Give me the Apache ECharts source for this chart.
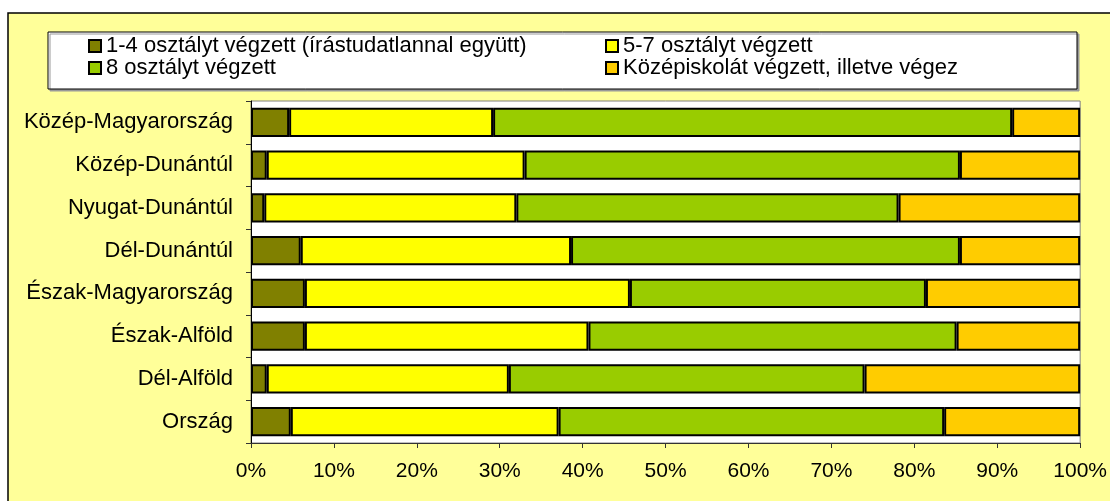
<!DOCTYPE html>
<html>
<head>
<meta charset="utf-8">
<script src="https://cdn.jsdelivr.net/npm/echarts@6/dist/echarts.min.js"></script>
<style>html,body{margin:0;padding:0;background:#fff}#c{width:1110px;height:501px}</style>
</head>
<body>
<div id="c"></div>
<script>
const categories = ["Közép-Magyarország","Közép-Dunántúl","Nyugat-Dunántúl","Dél-Dunántúl","Észak-Magyarország","Észak-Alföld","Dél-Alföld","Ország"];
const seriesNames = ["1-4 osztályt végzett (írástudatlannal együtt)","5-7 osztályt végzett","8 osztályt végzett","Középiskolát végzett, illetve végez"];
const s1 = [4.6, 1.9, 1.6, 6.0, 6.5, 6.5, 1.9, 4.8];
const s2 = [24.6, 31.1, 30.4, 32.6, 39.2, 34.2, 29.2, 32.3];
const s3 = [62.6, 52.5, 46.1, 46.9, 35.7, 44.4, 42.9, 46.5];
const s4 = [8.2, 14.5, 21.9, 14.5, 18.6, 14.9, 26.0, 16.4];
const colors = ["#808000","#FFFF00","#99CC00","#FFCC00"];
const values = [s1, s2, s3, s4];

const FONT = "'Liberation Sans', Arial, sans-serif";
const chart = echarts.init(document.getElementById('c'), null, {renderer:'canvas'});
const legendCommon = {
  orient: 'vertical', top: 35, padding: 0, itemGap: 0,
  itemWidth: 12, itemHeight: 12, icon: 'rect',
  textStyle: {fontFamily: FONT, fontSize: 22, color: '#000', lineHeight: 22},
  selectedMode: false
};
chart.setOption({
  backgroundColor: '#fff',
  animation: false,
  textStyle: {fontFamily: FONT},
  graphic: [
    {type:'rect', z:-10, silent:true, shape:{x:8, y:13, width:1200, height:600},
     style:{fill:'#FFFF99', stroke:'#000', lineWidth:1.5}},
    {type:'rect', z:-9, silent:true, shape:{x:48, y:32, width:1029, height:57},
     style:{fill:'#fff', stroke:'#000', lineWidth:1, shadowColor:'#999', shadowOffsetX:2, shadowOffsetY:2, shadowBlur:0}}
  ],
  legend: [
    Object.assign({}, legendCommon, {left: 88, data: [seriesNames[0], seriesNames[2]]}),
    Object.assign({}, legendCommon, {left: 605, data: [seriesNames[1], seriesNames[3]]})
  ],
  grid: {left: 251, right: 29, top: 101, bottom: 58, show: true, backgroundColor: '#fff', borderColor: '#808080', borderWidth: 1, containLabel: false},
  xAxis: {
    type: 'value', min: 0, max: 100, interval: 10,
    axisLine: {show: true, lineStyle: {color: '#333', width: 1}},
    axisTick: {show: true, length: 5, lineStyle: {color: '#333'}},
    splitLine: {show: false},
    axisLabel: {formatter: '{value}%', color: '#000', fontSize: 21, fontFamily: FONT, margin: 18}
  },
  yAxis: {
    type: 'category', data: categories, inverse: true,
    axisLine: {show: true, lineStyle: {color: '#000', width: 1}},
    axisTick: {show: true, length: 5, lineStyle: {color: '#333'}},
    splitLine: {show: false},
    axisLabel: {color: '#000', fontSize: 22, fontFamily: FONT, margin: 18}
  },
  series: values.map((v, i) => ({
    name: seriesNames[i], type: 'bar', stack: 'total', data: v,
    barCategoryGap: '32%',
    itemStyle: {color: colors[i], borderColor: '#000', borderWidth: 2}
  }))
});
</script>
</body>
</html>
